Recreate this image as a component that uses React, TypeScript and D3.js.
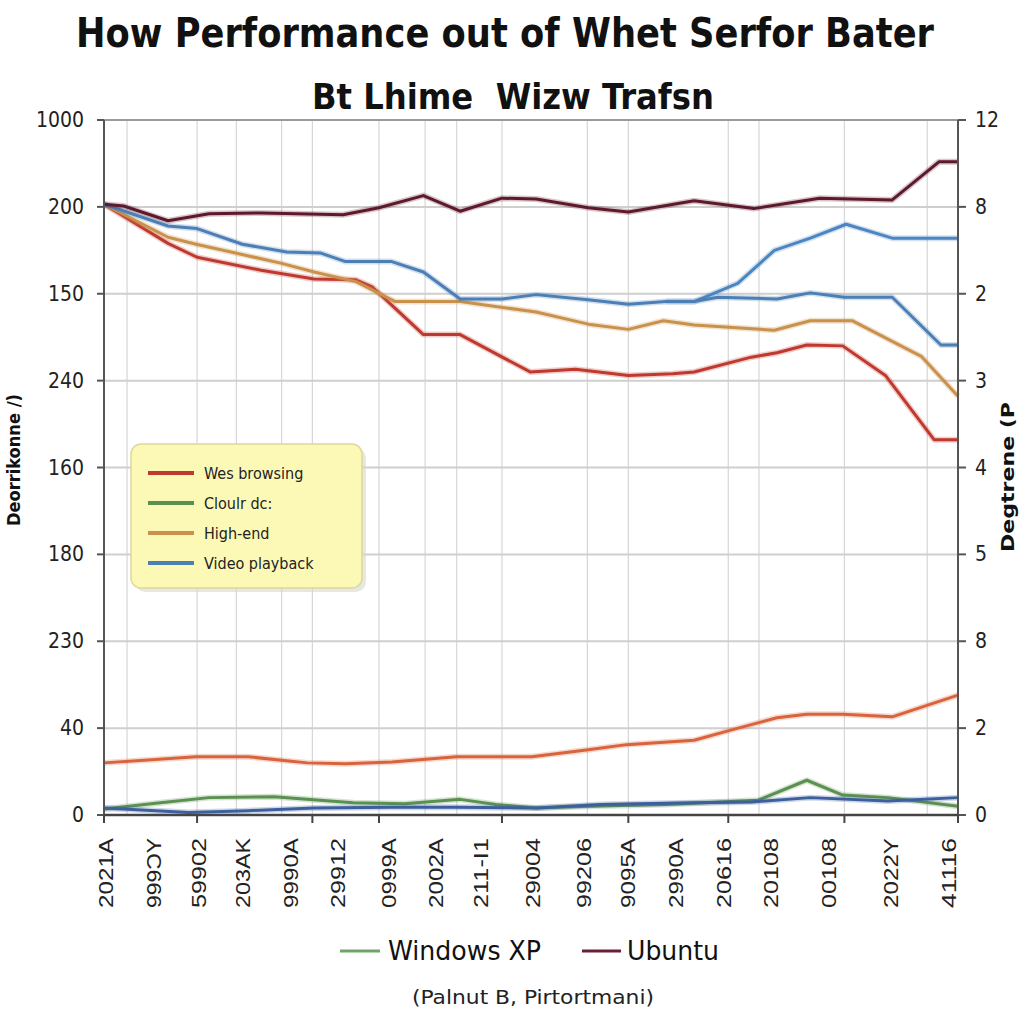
import React from "react";
import * as d3 from "d3";

const leftTickLabels = ["0", "40", "230", "180", "160", "240", "150", "200", "1000"];
const rightTickLabels = ["0", "2", "8", "5", "4", "3", "2", "8", "12"];
const xLabels = ["2021A", "999ƆY", "59902", "203AK", "9990A", "29912", "0999A", "2002A", "211-I1", "29004", "99206", "9095A", "2990A", "20616", "20108", "00108", "2022Y", "41116"];
const xLabelPos = [0.1, 5.7, 11.0, 16.2, 21.8, 27.3, 33.3, 38.8, 44.0, 50.1, 56.1, 61.2, 66.9, 72.5, 78.0, 84.8, 92.0, 98.8];
const xTickPos = [0, 10.9, 24.4, 32.2, 46.6, 61.4, 73.1, 86.7, 100];
const vGridPos = [2.7, 10.9, 15.5, 20.8, 24.4, 32.2, 37.6, 41.3, 46.6, 56.6, 61.4, 73.1, 76.7, 86.7, 96.4];

const webBrowsing: [number, number][] = [[0,7.03],[7.5,6.58],[10.9,6.42],[18.4,6.27],[24.6,6.17],[29.5,6.16],[31.4,6.08],[37.4,5.53],[41.7,5.53],[49.9,5.10],[55.2,5.13],[61.4,5.06],[66.6,5.08],[69.1,5.10],[75.8,5.27],[78.8,5.32],[82.3,5.41],[86.5,5.40],[91.5,5.06],[97.2,4.32],[100,4.32]];
const highEnd: [number, number][] = [[0,7.03],[7.5,6.65],[10.8,6.57],[20.8,6.35],[24.6,6.25],[29.5,6.14],[34.1,5.91],[41.7,5.91],[50.6,5.79],[56.7,5.65],[61.4,5.59],[65.5,5.69],[69.1,5.64],[78.5,5.58],[82.7,5.69],[87.6,5.69],[95.7,5.28],[100,4.82]];
const videoPlayback: [number, number][] = [[0,7.03],[7.5,6.78],[10.9,6.75],[16.2,6.57],[21.4,6.48],[25.3,6.47],[28.3,6.37],[33.7,6.37],[37.4,6.25],[41.7,5.94],[46.6,5.94],[50.6,5.99],[56.7,5.93],[61.4,5.88],[65.8,5.91],[69.1,5.91],[71.9,5.96],[78.8,5.94],[82.7,6.01],[86.7,5.96],[92.3,5.96],[98.0,5.41],[100,5.41]];
const videoPlaybackAlt: [number, number][] = [[65.8,5.91],[69.1,5.91],[74.2,6.12],[78.5,6.50],[82.7,6.64],[86.9,6.80],[92.3,6.64],[100,6.64]];
const ubuntu: [number, number][] = [[0,7.03],[2.3,7.01],[7.5,6.84],[12.3,6.92],[18.4,6.93],[28.0,6.91],[32.2,6.99],[37.4,7.13],[41.7,6.95],[46.6,7.10],[50.6,7.09],[56.7,6.99],[61.4,6.94],[69.1,7.07],[76.1,6.98],[83.8,7.10],[92.3,7.08],[97.8,7.52],[100,7.52]];
const xpBrowsing: [number, number][] = [[0,0.60],[10.8,0.67],[16.9,0.67],[23.8,0.60],[28.3,0.59],[33.7,0.61],[41.3,0.67],[50.1,0.67],[56.7,0.75],[61.2,0.81],[69.1,0.86],[73.5,0.98],[78.8,1.12],[82.3,1.16],[86.5,1.16],[92.3,1.13],[100,1.38]];
const windowsXP: [number, number][] = [[0,0.07],[6.6,0.14],[12.3,0.20],[19.9,0.21],[25.3,0.17],[29.2,0.14],[35.2,0.13],[41.7,0.18],[45.9,0.12],[50.6,0.08],[56.7,0.10],[65.8,0.12],[76.6,0.17],[82.3,0.40],[86.5,0.23],[91.8,0.20],[100,0.10]];
const xpVideo: [number, number][] = [[0,0.08],[9.9,0.03],[16.9,0.05],[24.6,0.08],[33.7,0.09],[41.3,0.09],[50.6,0.08],[58.2,0.12],[68.9,0.14],[75.8,0.15],[82.7,0.20],[91.8,0.16],[100,0.20]];

const legendItems = [
  { label: "Wes browsing", color: "#c0392f" },
  { label: "Cloulr dc:", color: "#5b9150" },
  { label: "High-end", color: "#c9914b" },
  { label: "Video playback", color: "#4b7fb5" },
];
const bottomLegend = [
  { label: "Windows XP", color: "#6fa368" },
  { label: "Ubuntu", color: "#6a1f33" },
];

const narrow = "'Liberation Sans Narrow', 'DejaVu Sans Condensed', 'Liberation Sans', Arial, sans-serif";
const sans = "'Liberation Sans', Arial, sans-serif";

export default function App() {
  const W = 1024, H = 1024;
  const x = d3.scaleLinear().domain([0, 100]).range([104, 958]);
  const y = d3.scaleLinear().domain([0, 8]).range([815, 120]);
  const line = d3.line<[number, number]>().x(d => x(d[0])).y(d => y(d[1]));
  const levels = d3.range(0, 9);

  const series = [
    { data: xpBrowsing, color: "#d9643c" },
    { data: windowsXP, color: "#5b9150" },
    { data: xpVideo, color: "#3d5f9e" },
    { data: webBrowsing, color: "#c0392f" },
    { data: highEnd, color: "#c9914b" },
    { data: videoPlaybackAlt, color: "#4b86c2" },
    { data: videoPlayback, color: "#4b7fb5" },
    { data: ubuntu, color: "#5e1a2c" },
  ];

  return (
    <svg width={W} height={H} style={{ position: "absolute", left: 0, top: 0, background: "#fff" }}>
      <rect x={0} y={0} width={W} height={H} fill="#fff" />
      <text x={505} y={47} textAnchor="middle" fontFamily={narrow} fontWeight="bold" fontSize={40} textLength={858} lengthAdjust="spacingAndGlyphs" fill="#111">How Performance out of Whet Serfor Bater</text>
      <text x={513} y={109} textAnchor="middle" fontFamily={narrow} fontWeight="bold" fontSize={36} textLength={402} lengthAdjust="spacingAndGlyphs" fill="#111" style={{ whiteSpace: "pre" }}>Bt Lhime  Wizw Trafsn</text>

      {vGridPos.map((v, i) => (
        <line key={"vg" + i} x1={x(v)} x2={x(v)} y1={y(8)} y2={y(0)} stroke="#d6d6d6" strokeWidth={1.2} />
      ))}
      {levels.map(l => (
        <line key={"hg" + l} x1={x(0)} x2={x(100)} y1={y(l)} y2={y(l)} stroke={l === 8 ? "#9a9a9a" : "#cfcfcf"} strokeWidth={2} />
      ))}

      {series.map((s, i) => (
        <g key={"s" + i}>
          <path d={line(s.data) || ""} fill="none" stroke={s.color} strokeOpacity={0.25} strokeWidth={6} strokeLinejoin="round" />
          <path d={line(s.data) || ""} fill="none" stroke={s.color} strokeWidth={3} strokeLinejoin="round" />
        </g>
      ))}

      <line x1={x(0)} x2={x(0)} y1={y(8)} y2={y(0)} stroke="#555" strokeWidth={2} />
      <line x1={x(100)} x2={x(100)} y1={y(8)} y2={y(0)} stroke="#555" strokeWidth={2} />
      <line x1={x(0)} x2={x(100)} y1={y(0)} y2={y(0)} stroke="#444" strokeWidth={2.5} />

      {levels.map(l => (
        <g key={"lt" + l}>
          <line x1={x(0) - 7} x2={x(0)} y1={y(l)} y2={y(l)} stroke="#555" strokeWidth={2} />
          <text x={84} y={y(l) + 7} textAnchor="end" fontFamily={narrow} fontSize={21} fill="#222">{leftTickLabels[l]}</text>
          <line x1={x(100)} x2={x(100) + 8} y1={y(l)} y2={y(l)} stroke="#555" strokeWidth={2} />
          <text x={975} y={y(l) + 7} textAnchor="start" fontFamily={narrow} fontSize={21} fill="#222">{rightTickLabels[l]}</text>
        </g>
      ))}

      {xTickPos.map((v, i) => (
        <line key={"xt" + i} x1={x(v)} x2={x(v)} y1={y(0)} y2={y(0) + 8} stroke="#444" strokeWidth={2} />
      ))}
      {xLabels.map((lab, i) => (
        <text key={"xl" + i} transform={`translate(${x(xLabelPos[i]) + 8},838) rotate(-90)`} textAnchor="end" fontFamily={sans} fontSize={21} textLength={70} lengthAdjust="spacingAndGlyphs" fill="#222">{lab}</text>
      ))}

      <text transform="translate(20,460) rotate(-90)" textAnchor="middle" fontFamily={narrow} fontWeight="bold" fontSize={18} textLength={132} lengthAdjust="spacingAndGlyphs" fill="#111">Deorrikonne /)</text>
      <text transform="translate(1014,477) rotate(-90)" textAnchor="middle" fontFamily={narrow} fontWeight="bold" fontSize={18} textLength={150} lengthAdjust="spacingAndGlyphs" fill="#111">Degtrene (P</text>

      <rect x={135} y={448} width={231} height={144} rx={10} fill="#d8d8d0" opacity={0.6} />
      <rect x={131} y={444} width={231} height={144} rx={10} fill="#fcf9b6" stroke="#ddd89c" strokeWidth={1.5} />
      {legendItems.map((it, i) => (
        <g key={"lg" + i}>
          <line x1={148} x2={194} y1={473 + i * 30} y2={473 + i * 30} stroke={it.color} strokeWidth={4} />
          <text x={204} y={479 + i * 30} fontFamily={narrow} fontSize={16} fill="#222">{it.label}</text>
        </g>
      ))}

      <line x1={340} x2={380} y1={951} y2={951} stroke={bottomLegend[0].color} strokeWidth={3} />
      <text x={388} y={960} fontFamily={narrow} fontSize={26} textLength={153} lengthAdjust="spacingAndGlyphs" fill="#111">{bottomLegend[0].label}</text>
      <line x1={582} x2={621} y1={951} y2={951} stroke={bottomLegend[1].color} strokeWidth={3} />
      <text x={627} y={960} fontFamily={narrow} fontSize={26} textLength={92} lengthAdjust="spacingAndGlyphs" fill="#111">{bottomLegend[1].label}</text>

      <text x={533} y={1004} textAnchor="middle" fontFamily={narrow} fontSize={20} textLength={242} lengthAdjust="spacingAndGlyphs" fill="#222">(Palnut B, Pirtortmani)</text>
    </svg>
  );
}
